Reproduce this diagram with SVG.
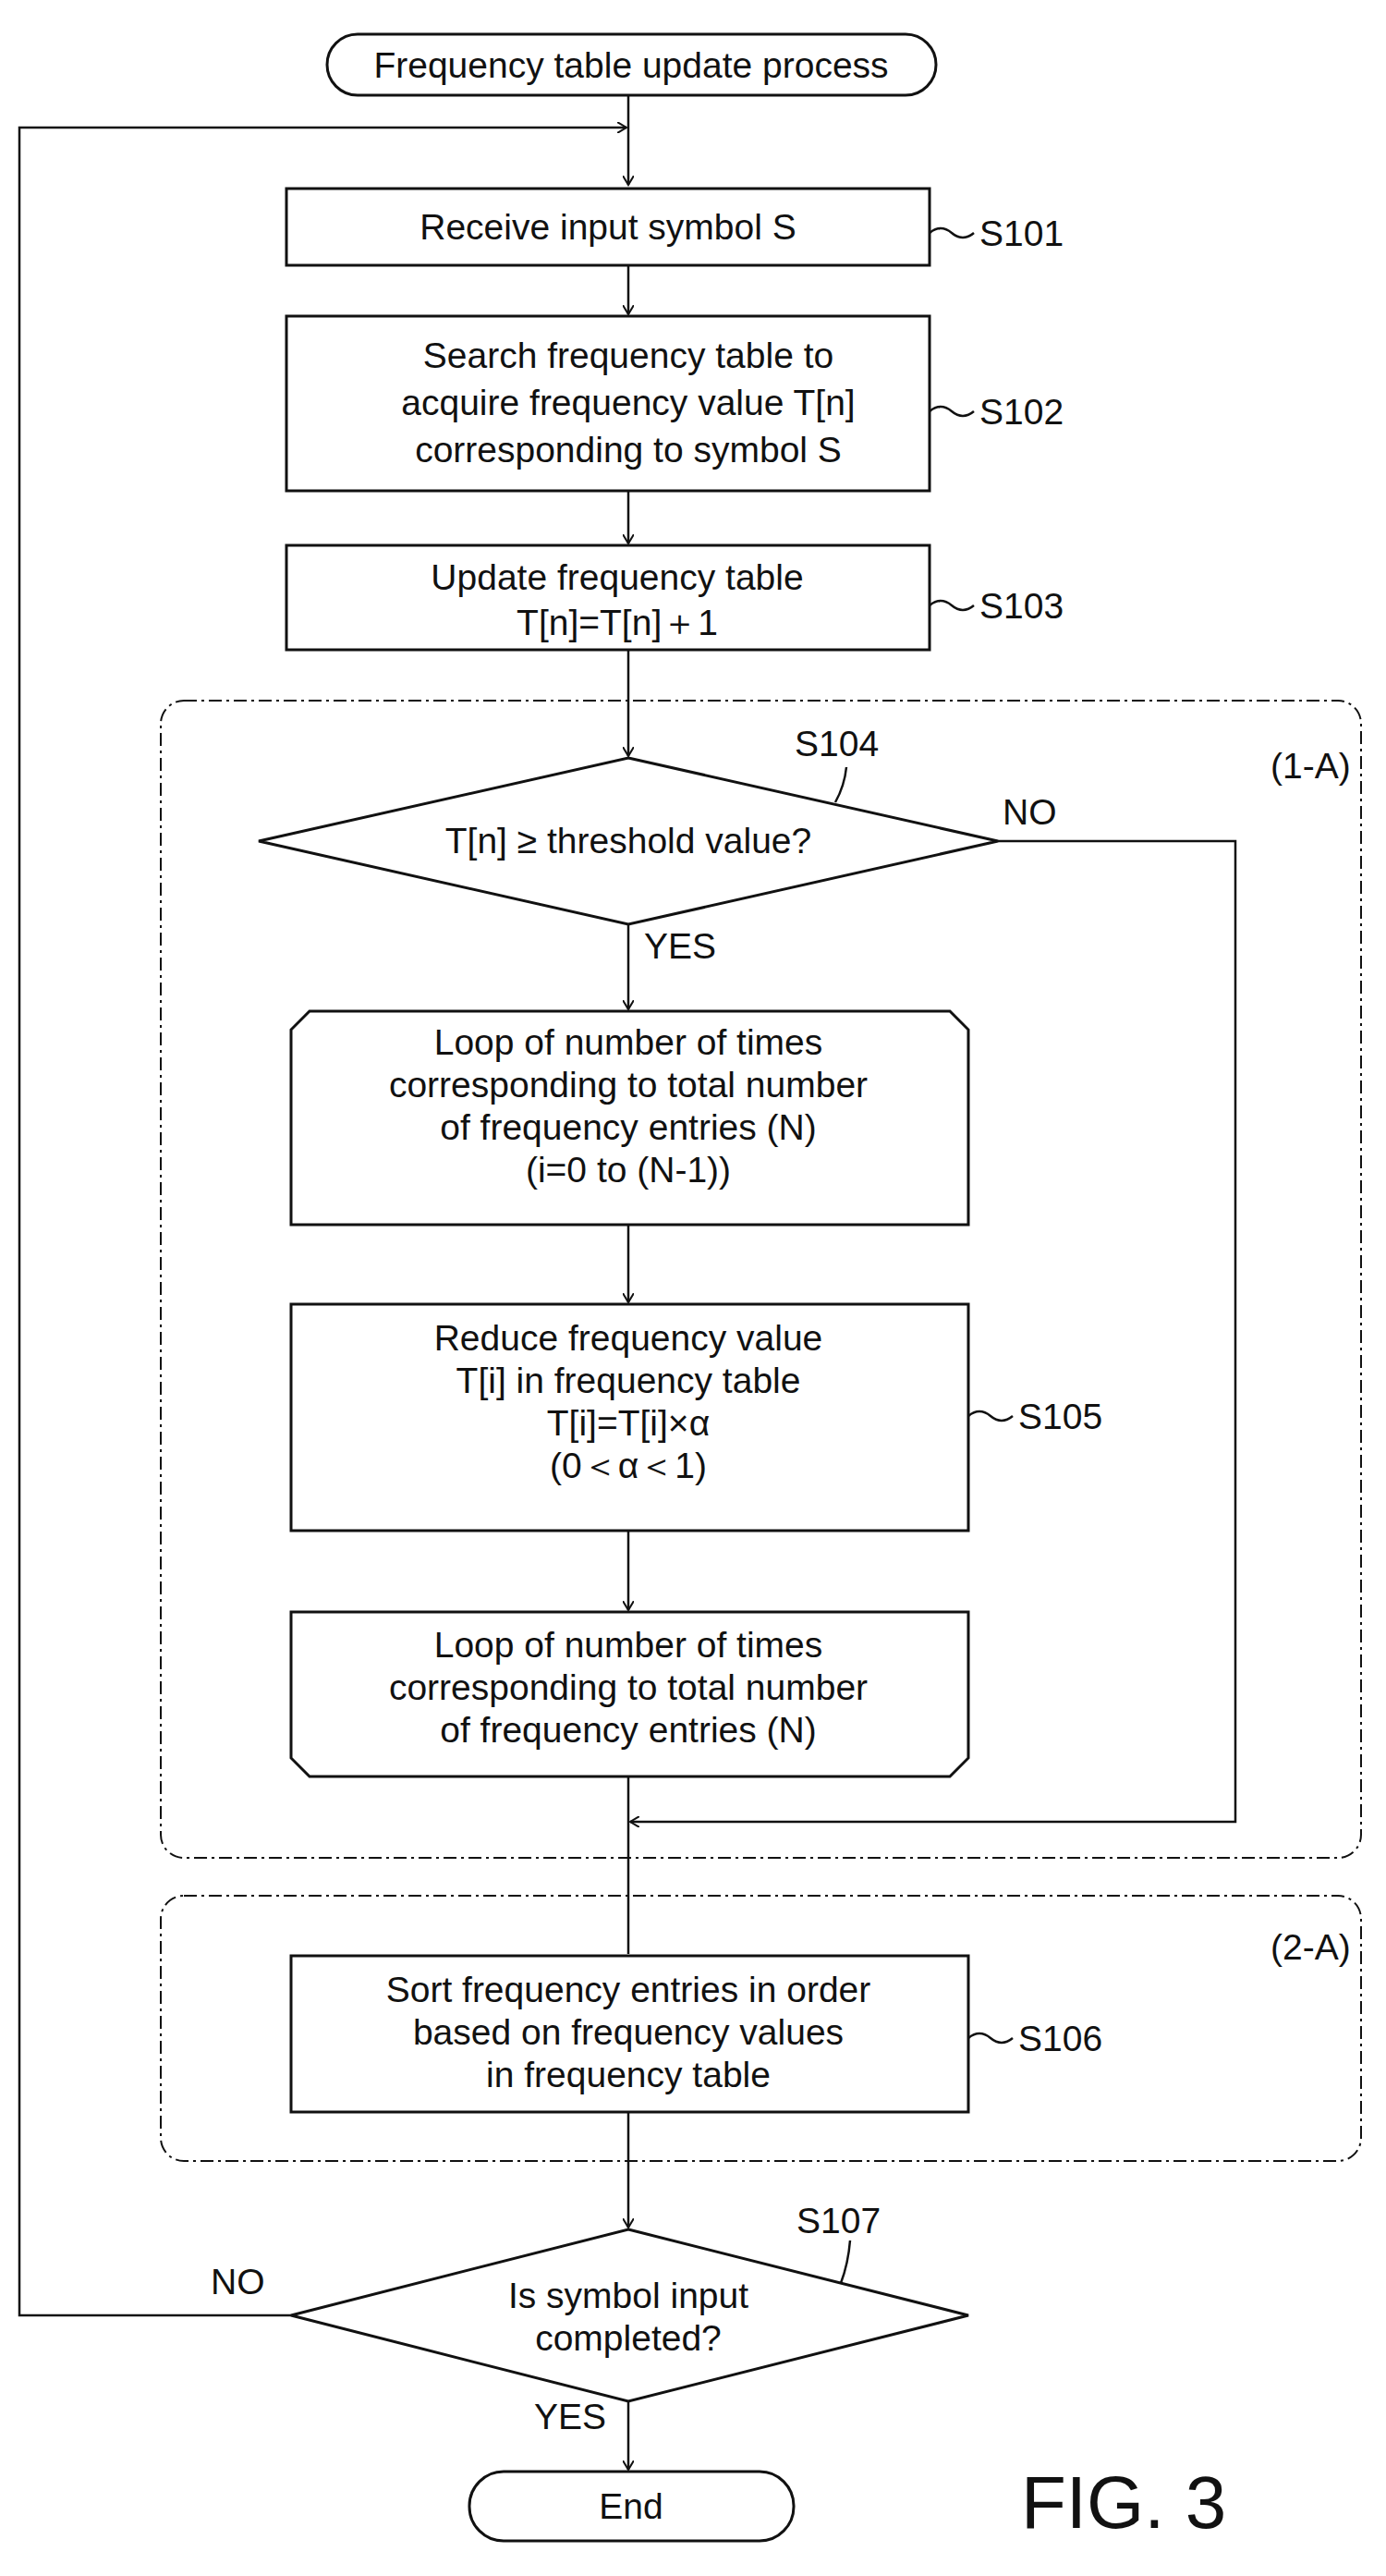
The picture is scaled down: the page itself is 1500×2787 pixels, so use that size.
<svg xmlns="http://www.w3.org/2000/svg" width="1500" height="2787" viewBox="0 0 1500 2787">
<style>
.n{fill:#fff;stroke:#111;stroke-width:3}
.t{font-family:"Liberation Sans",Arial,sans-serif;font-size:39px;fill:#111;text-anchor:middle}
.l{font-family:"Liberation Sans",Arial,sans-serif;font-size:39px;fill:#111}
.c{fill:none;stroke:#111;stroke-width:2.5}
.g{fill:none;stroke:#111;stroke-width:2;stroke-dasharray:14 5 3 5}
</style>
<defs><marker id="a" markerWidth="12" markerHeight="12" refX="10" refY="6" orient="auto" markerUnits="userSpaceOnUse"><path d="M0,0 L10,6 L0,12" fill="none" stroke="#111" stroke-width="2"/></marker></defs>
<g id="groups">
<rect class="g" x="174" y="758" width="1299" height="1252" rx="25"/>
<text class="l" x="1375" y="842">(1-A)</text>
<rect class="g" x="174" y="2051" width="1299" height="287" rx="25"/>
<text class="l" x="1375" y="2120">(2-A)</text>
</g>
<g id="connectors">
<path class="c" d="M680,103 V200" marker-end="url(#a)"/>
<path class="c" d="M315,2505 H21 V138 H678" marker-end="url(#a)"/>
<path class="c" d="M680,287 V340" marker-end="url(#a)"/>
<path class="c" d="M680,531 V588" marker-end="url(#a)"/>
<path class="c" d="M680,703 V818" marker-end="url(#a)"/>
<path class="c" d="M680,1000 V1092" marker-end="url(#a)"/>
<path class="c" d="M680,1325 V1409" marker-end="url(#a)"/>
<path class="c" d="M680,1656 V1742" marker-end="url(#a)"/>
<path class="c" d="M1080,910 H1337 V1971 H682" marker-end="url(#a)"/>
<path class="c" d="M680,1922 V2114"/>
<path class="c" d="M680,2285 V2410" marker-end="url(#a)"/>
<path class="c" d="M680,2598 V2672" marker-end="url(#a)"/>
<text class="l" x="1085" y="892">NO</text>
<text class="l" x="697" y="1037">YES</text>
<text class="l" x="228" y="2482">NO</text>
<text class="l" x="578" y="2628">YES</text>
</g>
<g id="start"><rect class="n" x="354" y="37" width="659" height="66" rx="33"/><text class="t" x="683" y="84">Frequency table update process</text></g>
<g id="S101"><rect class="n" x="310" y="204" width="696" height="83"/><text class="t" x="658" y="259">Receive input symbol S</text>
<path class="c" d="M1006,252 q12,-10 24,0 t24,0"/><text class="l" x="1060" y="266">S101</text></g>
<g id="S102"><rect class="n" x="310" y="342" width="696" height="189"/>
<text class="t" x="680" y="398">Search frequency table to</text><text class="t" x="680" y="449">acquire frequency value T[n]</text><text class="t" x="680" y="500">corresponding to symbol S</text>
<path class="c" d="M1006,445 q12,-10 24,0 t24,0"/><text class="l" x="1060" y="459">S102</text></g>
<g id="S103"><rect class="n" x="310" y="590" width="696" height="113"/>
<text class="t" x="668" y="638">Update frequency table</text><text class="t" x="668" y="687">T[n]=T[n]＋1</text>
<path class="c" d="M1006,655 q12,-10 24,0 t24,0"/><text class="l" x="1060" y="669">S103</text></g>
<g id="S104"><polygon class="n" points="680,820 1080,910 680,1000 280,910"/>
<text class="t" x="680" y="923">T[n] ≥ threshold value?</text>
<path class="c" d="M916,830 q-2,20 -12,38"/><text class="l" x="860" y="818">S104</text></g>
<g id="loopstart"><polygon class="n" points="335,1094 1028,1094 1048,1114 1048,1325 315,1325 315,1114"/>
<text class="t" x="680" y="1141">Loop of number of times</text><text class="t" x="680" y="1187">corresponding to total number</text><text class="t" x="680" y="1233">of frequency entries (N)</text><text class="t" x="680" y="1279">(i=0 to (N-1))</text></g>
<g id="S105"><rect class="n" x="315" y="1411" width="733" height="245"/>
<text class="t" x="680" y="1461">Reduce frequency value</text><text class="t" x="680" y="1507">T[i] in frequency table</text><text class="t" x="680" y="1553">T[i]=T[i]×α</text><text class="t" x="680" y="1599">(0＜α＜1)</text>
<path class="c" d="M1048,1532 q12,-10 24,0 t24,0"/><text class="l" x="1102" y="1546">S105</text></g>
<g id="loopend"><polygon class="n" points="315,1744 1048,1744 1048,1902 1028,1922 335,1922 315,1902"/>
<text class="t" x="680" y="1793">Loop of number of times</text><text class="t" x="680" y="1839">corresponding to total number</text><text class="t" x="680" y="1885">of frequency entries (N)</text></g>
<g id="S106"><rect class="n" x="315" y="2116" width="733" height="169"/>
<text class="t" x="680" y="2166">Sort frequency entries in order</text><text class="t" x="680" y="2212">based on frequency values</text><text class="t" x="680" y="2258">in frequency table</text>
<path class="c" d="M1048,2205 q12,-10 24,0 t24,0"/><text class="l" x="1102" y="2219">S106</text></g>
<g id="S107"><polygon class="n" points="680,2412 1048,2505 680,2598 315,2505"/>
<text class="t" x="680" y="2497">Is symbol input</text><text class="t" x="680" y="2543">completed?</text>
<path class="c" d="M920,2424 q-2,25 -10,46"/><text class="l" x="862" y="2416">S107</text></g>
<g id="end"><rect class="n" x="508" y="2674" width="351" height="75" rx="37"/><text class="t" x="683" y="2725">End</text></g>
<text class="l" x="1105" y="2735" style="font-size:80px">FIG. 3</text>
</svg>
